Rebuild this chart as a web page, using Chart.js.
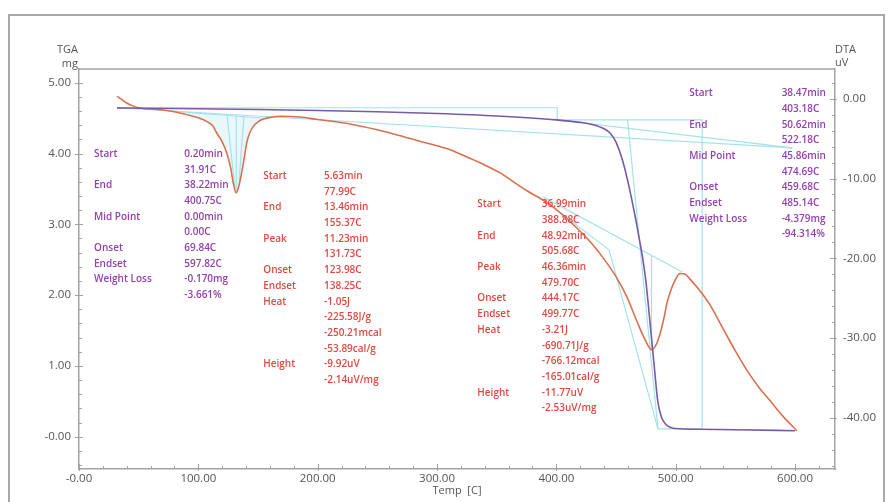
<!DOCTYPE html>
<html><head><meta charset="utf-8">
<script src="https://cdn.jsdelivr.net/npm/chart.js@4.4.1/dist/chart.umd.min.js"></script>
<style>
html,body{margin:0;padding:0;background:#fff;}
#wrap{position:relative;width:888px;height:502px;overflow:hidden;background:#fff;}
#frame{position:absolute;left:8px;top:14px;width:877px;height:520px;border:2px solid #a8a8a8;box-sizing:border-box;pointer-events:none;}
canvas{position:absolute;left:0;top:0;}
</style></head><body>
<div id="wrap"><canvas id="c" width="888" height="502"></canvas><div id="frame"></div></div>
<script>
// ---------- data ----------
const tgaTemp = [31.9, 50, 100, 150, 200, 250, 300, 350, 400, 420, 430, 440, 445, 450, 455, 460, 465, 470, 473, 475, 478, 480, 482, 485, 488, 492, 496, 500, 520, 550, 600];
const tgaMass = [4.645, 4.64, 4.632, 4.622, 4.608, 4.59, 4.565, 4.53, 4.476, 4.44, 4.41, 4.35, 4.29, 4.16, 3.93, 3.6, 3.2, 2.75, 2.45, 2.2, 1.7, 1.35, 1.0, 0.5, 0.28, 0.17, 0.13, 0.115, 0.105, 0.098, 0.085];

const dtaTemp = [31.9, 35, 40, 45, 51, 60, 73.5, 87.4, 100, 107, 112, 115.4, 120, 123.8, 127, 129.3, 131.7, 133.5, 136.3, 138.5, 140.5, 143, 146.1, 150, 154.5, 160, 168.4, 185, 200, 225, 250, 275, 300, 311, 325, 340, 353, 361, 375, 395, 420, 430, 440, 450, 459, 467, 474, 480, 484, 487, 490, 493, 496.7, 500, 503.6, 508, 512, 520, 529, 540, 550, 560, 570, 580, 590, 601.5];
const dtaSignal = [0.3, 0.0, -0.54, -0.9, -1.17, -1.3, -1.47, -1.88, -2.4, -2.84, -3.4, -4.3, -5.4, -6.8, -8.6, -10.6, -11.8, -11.2, -9.3, -7.4, -5.55, -4.3, -3.47, -2.9, -2.54, -2.35, -2.2, -2.3, -2.6, -3.1, -3.9, -4.9, -5.9, -6.4, -7.3, -8.3, -9.3, -10.1, -11.5, -13.3, -16.6, -18.2, -20.1, -22.3, -24.8, -27.7, -30.1, -31.45, -30.7, -29.4, -27.6, -25.4, -23.7, -22.6, -21.9, -22.0, -22.6, -24.0, -25.9, -28.9, -31.6, -34.1, -36.2, -38.0, -39.8, -41.6];

// analysis construction lines (temperature, value)
const tgaStep1Base = [[31.91, 4.647], [400.75, 4.647], [400.75, 4.476]];
const tgaStep2Base = [[400.75, 4.476], [522.18, 4.476], [522.18, 0.11], [485.14, 0.11]];
const tgaStep2Tangent = [[459.68, 4.476], [485.14, 0.11]];
const tgaLeader1 = [[31.91, 4.647], [597.82, 4.08]];
const tgaLeader2 = [[400.75, 4.476], [597.82, 4.08]];
const tgaStep2Aux = [[388.88, 3.35], [444.17, 2.64], [485.14, 0.11]];
const dtaPeak2Base = [[388.88, -12.3], [505.68, -21.7]];
const dtaPeak2Drop = [[479.70, -19.6], [479.70, -31.45]];
const dtaPeak1Base = [[77.99, -1.55], [155.37, -2.45]];
const dtaPeak1Drop = [[131.73, -2.0], [131.73, -11.8]];
const dtaPeak1Onset = [[123.98, -1.95], [130.6, -11.2]];
const dtaPeak1Endset = [[138.25, -2.1], [134.2, -10.2]];

// tick labels
const xTickValues = [0, 100, 200, 300, 400, 500, 600];
const xTickLabels = ['-0.00', '100.00', '200.00', '300.00', '400.00', '500.00', '600.00'];
const tgaTickValues = [0, 1, 2, 3, 4, 5];
const tgaTickLabels = ['-0.00', '1.00', '2.00', '3.00', '4.00', '5.00'];
const dtaTickValues = [0, -10, -20, -30, -40];
const dtaTickLabels = ['0.00', '-10.00', '-20.00', '-30.00', '-40.00'];

// result texts
const tgaRes1Names = ['Start', '', 'End', '', 'Mid Point', '', 'Onset', 'Endset', 'Weight Loss', ''];
const tgaRes1Values = ['0.20min', '31.91C', '38.22min', '400.75C', '0.00min', '0.00C', '69.84C', '597.82C', '-0.170mg', '-3.661%'];
const tgaRes2Names = ['Start', '', 'End', '', 'Mid Point', '', 'Onset', 'Endset', 'Weight Loss', ''];
const tgaRes2Values = ['38.47min', '403.18C', '50.62min', '522.18C', '45.86min', '474.69C', '459.68C', '485.14C', '-4.379mg', '-94.314%'];
const dtaResNames = ['Start', '', 'End', '', 'Peak', '', 'Onset', 'Endset', 'Heat', '', '', '', 'Height', ''];
const dtaRes1Values = ['5.63min', '77.99C', '13.46min', '155.37C', '11.23min', '131.73C', '123.98C', '138.25C', '-1.05J', '-225.58J/g', '-250.21mcal', '-53.89cal/g', '-9.92uV', '-2.14uV/mg'];
const dtaRes2Values = ['36.99min', '388.88C', '48.92min', '505.68C', '46.36min', '479.70C', '444.17C', '499.77C', '-3.21J', '-690.71J/g', '-766.12mcal', '-165.01cal/g', '-11.77uV', '-2.53uV/mg'];

// anchors of result blocks (temperature of name column, temperature of value column, TGA mg of first row)
const resultBlocks = [
  {names: tgaRes1Names, values: tgaRes1Values, nameX: 12.6, valueX: 88.2, y: 3.993, color: '#9440ae'},
  {names: dtaResNames, values: dtaRes1Values, nameX: 154.4, valueX: 205.3, y: 3.681, color: '#df4a40'},
  {names: dtaResNames, values: dtaRes2Values, nameX: 333.8, valueX: 387.8, y: 3.282, color: '#df4a40'},
  {names: tgaRes2Names, values: tgaRes2Values, nameX: 511.4, valueX: 588.8, y: 4.850, color: '#9440ae'}
];

// ---------- chart ----------
const pts = (xs, ys) => xs.map((x, i) => ({x: x, y: ys[i]}));
const seg = s => s.map(p => ({x: p[0], y: p[1]}));
const cyan = '#a6e2ea';
const axisColor = '#a3a3a3';
const tickFont = {family: 'Open Sans', size: 11.5};
const tickColor = '#555';

function segDs(s, axis) {
  return {data: seg(s), yAxisID: axis, borderColor: cyan, borderWidth: 1.2, pointRadius: 0, tension: 0, fill: false};
}

const peak1Area = pts(dtaTemp, dtaSignal).filter(p => p.x >= 77.99 && p.x <= 155.37);

const datasets = [
  {data: pts(tgaTemp, tgaMass), yAxisID: 'y', borderColor: '#775ba6', borderWidth: 1.6, pointRadius: 0, cubicInterpolationMode: 'monotone', fill: false},
  {data: pts(dtaTemp, dtaSignal), yAxisID: 'y1', borderColor: '#d8714f', borderWidth: 1.6, pointRadius: 0, cubicInterpolationMode: 'monotone', fill: false},
  segDs(tgaStep1Base, 'y'),
  segDs(tgaStep2Base, 'y'),
  segDs(tgaStep2Tangent, 'y'),
  segDs(tgaLeader1, 'y'),
  segDs(tgaLeader2, 'y'),
  segDs(tgaStep2Aux, 'y'),
  segDs(dtaPeak2Base, 'y1'),
  segDs(dtaPeak2Drop, 'y1'),
  segDs(dtaPeak1Base, 'y1'),   // index 10
  segDs(dtaPeak1Drop, 'y1'),
  segDs(dtaPeak1Onset, 'y1'),
  segDs(dtaPeak1Endset, 'y1'),
  {data: peak1Area, yAxisID: 'y1', borderWidth: 0, pointRadius: 0, cubicInterpolationMode: 'monotone',
   fill: {target: 10, above: 'rgba(180,230,238,0.32)', below: 'rgba(180,230,238,0.32)'}}
];

function fixTicks(values) {
  return s => { s.ticks = values.map(v => ({value: v})); };
}

const noGrid = {display: false, drawTicks: false, tickLength: 0};

const overlay = {
  id: 'overlay',
  afterDraw(chart) {
    const ctx = chart.ctx, a = chart.chartArea;
    const xs = chart.scales.x, ys = chart.scales.y, yr = chart.scales.y1;
    ctx.save();
    ctx.strokeStyle = axisColor;
    ctx.lineWidth = 1.5;
    ctx.beginPath(); ctx.moveTo(a.left, a.top); ctx.lineTo(a.right, a.top); ctx.stroke();
    ctx.lineWidth = 1;
    const ln = (x1, y1, x2, y2) => { ctx.beginPath(); ctx.moveTo(x1, y1); ctx.lineTo(x2, y2); ctx.stroke(); };
    // bottom axis ticks (every 20, major 100)
    for (let i = 0; i * 20 <= xs.max; i++) {
      const px = Math.round(xs.getPixelForValue(i * 20)) + 0.5;
      const major = i % 5 === 0;
      ln(px, a.bottom + (major ? 2 : 0), px, a.bottom - (major ? 5 : 3));
    }
    // left axis ticks (every 0.2, major 1)
    for (let i = -2; i * 0.2 <= ys.max + 1e-9; i++) {
      const v = i * 0.2;
      if (v < ys.min) continue;
      const py = Math.round(ys.getPixelForValue(v)) + 0.5;
      const major = i % 5 === 0;
      ln(a.left - (major ? 4 : 0), py, a.left + (major ? 4 : 3), py);
    }
    // right axis ticks (every 2, major 10)
    for (let i = -23; i * 2 <= yr.max; i++) {
      const v = i * 2;
      if (v < yr.min) continue;
      const py = Math.round(yr.getPixelForValue(v)) + 0.5;
      const major = i % 5 === 0;
      ln(a.right - (major ? 5 : 3), py, a.right + (major ? 2 : 0), py);
    }
    // axis titles
    ctx.fillStyle = tickColor;
    ctx.font = '11px "Open Sans"';
    ctx.textBaseline = 'middle';
    ctx.textAlign = 'right';
    ctx.fillText('TGA', a.left - 1, a.top - 19);
    ctx.fillText('mg', a.left - 1, a.top - 5);
    ctx.textAlign = 'left';
    ctx.fillText('DTA', a.right, a.top - 19);
    ctx.fillText('uV', a.right, a.top - 6);
    ctx.textAlign = 'center';
    ctx.fillText('Temp  [C]', (a.left + a.right) / 2, a.bottom + 22);
    // result blocks
    ctx.font = '600 10px "Open Sans"';
    ctx.textAlign = 'left';
    const lineH = 15.7;
    resultBlocks.forEach(b => {
      ctx.fillStyle = b.color;
      const nx = xs.getPixelForValue(b.nameX), vx = xs.getPixelForValue(b.valueX), y0 = ys.getPixelForValue(b.y);
      b.names.forEach((t, i) => { if (t) ctx.fillText(t, nx, y0 + i * lineH); });
      b.values.forEach((t, i) => { if (t) ctx.fillText(t, vx, y0 + i * lineH); });
    });
    ctx.restore();
  }
};

new Chart(document.getElementById('c'), {
  type: 'line',
  data: {datasets: datasets},
  options: {
    responsive: false,
    animation: false,
    events: [],
    layout: {padding: {left: 0, right: 0, top: 69, bottom: 0}},
    plugins: {legend: {display: false}, tooltip: {enabled: false}},
    scales: {
      x: {
        type: 'linear', position: 'bottom', min: 0, max: 633.5,
        afterBuildTicks: fixTicks(xTickValues),
        afterFit: s => { s.height = 33; },
        grid: noGrid,
        border: {display: true, color: axisColor, width: 1.5},
        ticks: {font: tickFont, color: tickColor, padding: 3, maxRotation: 0, autoSkip: false,
                callback: v => xTickLabels[xTickValues.indexOf(v)]}
      },
      y: {
        type: 'linear', position: 'left', min: -0.456, max: 5.194,
        afterBuildTicks: fixTicks(tgaTickValues),
        afterFit: s => { s.width = 79; },
        grid: noGrid,
        border: {display: true, color: axisColor, width: 1.5},
        ticks: {font: tickFont, color: tickColor, padding: 8, autoSkip: false,
                callback: v => tgaTickLabels[tgaTickValues.indexOf(v)]}
      },
      y1: {
        type: 'linear', position: 'right', min: -46.39, max: 3.72,
        afterBuildTicks: fixTicks(dtaTickValues),
        afterFit: s => { s.width = 53; },
        grid: noGrid,
        border: {display: true, color: axisColor, width: 1.5},
        ticks: {font: tickFont, color: tickColor, padding: 8, autoSkip: false,
                callback: v => dtaTickLabels[dtaTickValues.indexOf(v)]}
      }
    }
  },
  plugins: [overlay]
});
</script>
</body></html>
